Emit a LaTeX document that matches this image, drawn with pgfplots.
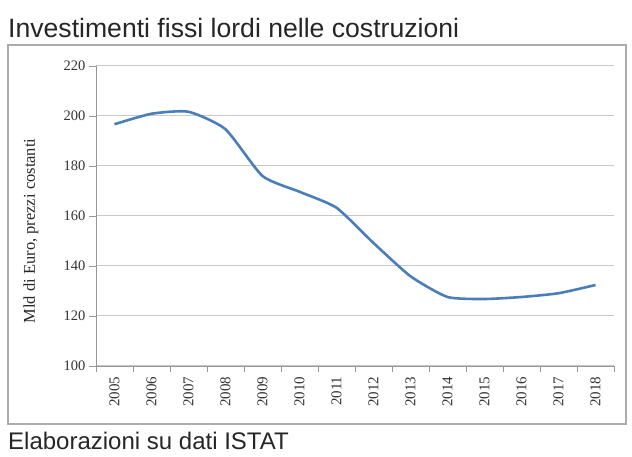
\documentclass[border=0pt]{standalone}
\usepackage{pgfplots}
\pgfplotsset{compat=1.18}
\usepackage{fontspec}
\setmainfont{Liberation Serif}
\newfontfamily\arial{Liberation Sans}
\definecolor{lineblue}{RGB}{74,126,187}
\definecolor{gridgray}{RGB}{200,200,200}
\definecolor{axisgray}{RGB}{150,150,150}
\begin{document}
\begin{tikzpicture}[x=1pt,y=1pt]
\path[use as bounding box] (0,0) rectangle (632,457);
\node[anchor=base west,inner sep=0pt,font=\arial\fontsize{26.6}{30}\selectfont,text=black!85] at (8,457-38) {Investimenti fissi lordi nelle costruzioni};
\draw[axisgray!80,line width=1.6pt] (8,457-45) rectangle (626,457-424);
\node[anchor=base west,inner sep=0pt,font=\arial\fontsize{24}{27}\selectfont,text=black!85] at (8,457-450) {Elaborazioni su dati ISTAT};
\begin{axis}[
  at={(96pt,91pt)}, anchor=south west,
  scale only axis, width=518pt, height=300pt,
  xmin=-0.5, xmax=13.5, ymin=100, ymax=220,
  ytick={100,120,...,220},
  xtick={0,...,13},
  xticklabels={2005,2006,2007,2008,2009,2010,2011,2012,2013,2014,2015,2016,2017,2018},
  minor xtick={-0.5,0.5,...,13.5},
  major x tick style={draw=none},
  minor tick length=6pt, major tick length=7pt,
  tick align=outside,
  axis x line*=bottom, axis y line*=left,
  axis line style={axisgray,line width=0.8pt},
  tick style={axisgray,line width=0.8pt},
  ymajorgrids, grid style={gridgray,line width=1pt},
  xticklabel style={rotate=90,anchor=east,font=\fontsize{15}{17}\selectfont,text=black!80},
  yticklabel style={font=\fontsize{14.5}{17}\selectfont,text=black!80},
  /pgf/number format/assume math mode=true,
  ylabel={Mld di Euro, prezzi costanti},
  ylabel style={font=\fontsize{16.5}{18}\selectfont,text=black!85,at={(axis description cs:-0.1255,0.45)},anchor=center},
  clip=false,
]
\addplot[lineblue,line width=2.6pt,smooth,tension=0.35] coordinates {
(0,196.7) (1,200.9) (2,201.7) (3,194.7) (4,176.0) (5,169.7) (6,163.3)
(7,149.2) (8,135.9) (9,127.6) (10,126.8) (11,127.6) (12,129.1) (13,132.4)
};
\end{axis}
\end{tikzpicture}
\end{document}
